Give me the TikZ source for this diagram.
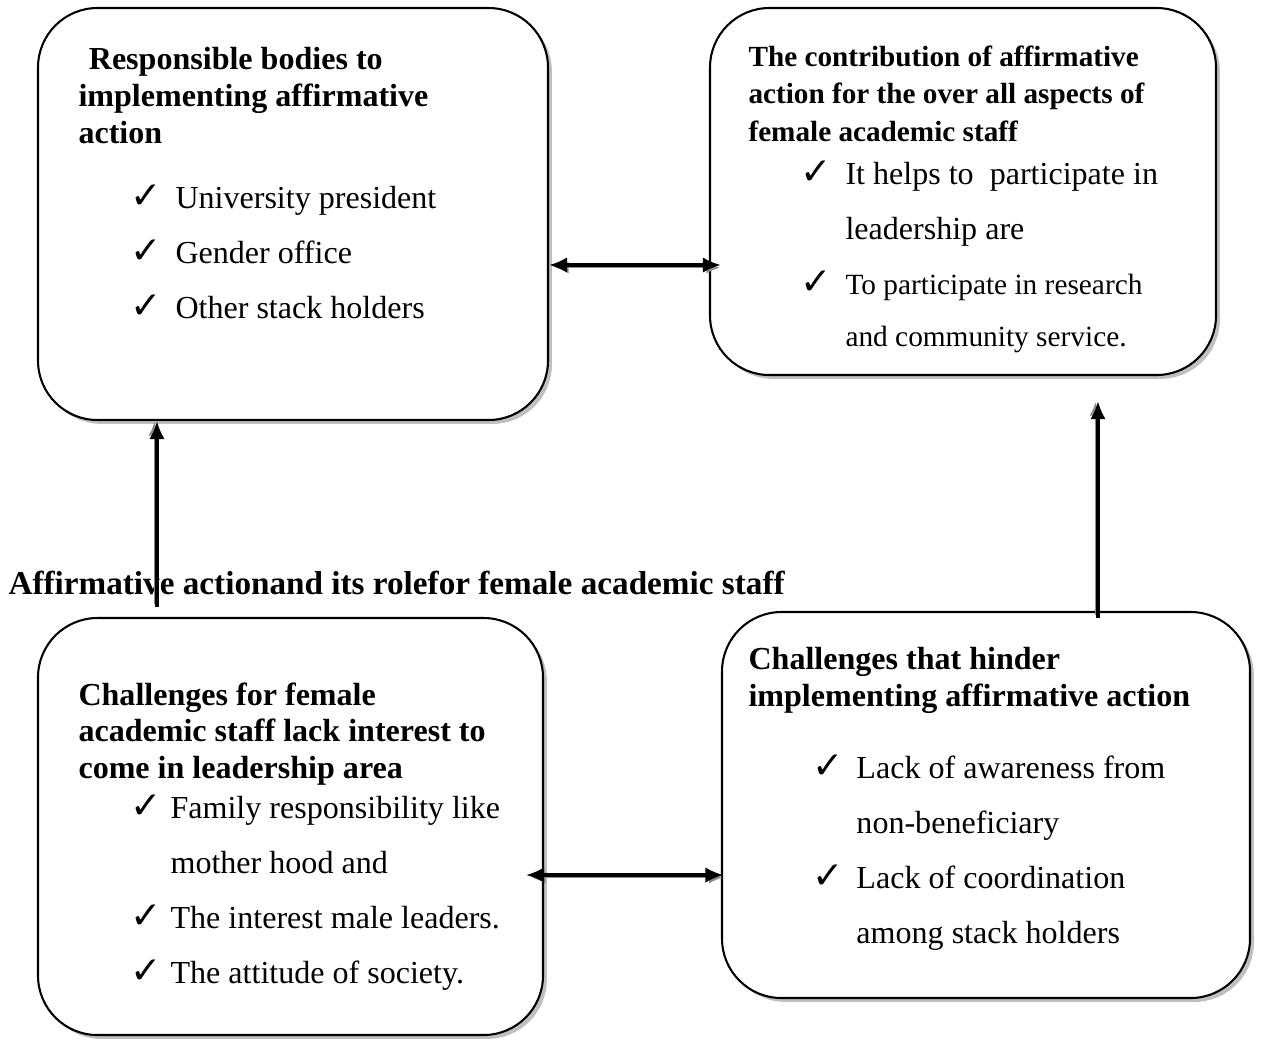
\documentclass[tikz,border=0pt]{standalone}
\usepackage{fontspec}
\setmainfont{Liberation Serif}
\newfontfamily\symfont{DejaVu Sans}
\usetikzlibrary{shadows,arrows.meta,fit}
\newcommand{\chk}[1][17.4pt]{\makebox[#1][l]{\symfont\fontsize{14.5}{14.5}\selectfont ✓}}
\tikzset{
    box/.style={draw, line width=.8pt, rounded corners=23pt, fill=white, inner sep=0pt,
        drop shadow={shadow xshift=1.5pt, shadow yshift=-1.5pt, fill=black!25, opacity=1}},
    txt/.style={anchor=north west, inner sep=0pt, align=left},
    head/.style={txt, font=\fontsize{12.4}{14.2}\selectfont\bfseries},
    items/.style={txt, font=\fontsize{12.4}{21.3}\selectfont},
    arr/.style={line width=1.2pt, {Latex[length=7pt,width=6pt]}-{Latex[length=7pt,width=6pt]},
        preaction={draw=black!45, transform canvas={shift={(1pt,-1pt)}}}},
    uparr/.style={line width=1.2pt, -{Latex[length=7pt,width=6pt]},
        preaction={draw=black!45, transform canvas={shift={(-1pt,1pt)}}}}
}
\begin{document}
\begin{tikzpicture}[x=0.0136cm, y=-0.0136cm]
\useasboundingbox (0,0) rectangle (1261,1042);
% boxes
\node[box, fit={(38,8) (548,420)}] (bodies) {};
\node[box, fit={(710,8) (1216,375)}] (contrib) {};
\node[box, fit={(38,618) (543,1035)}] (lack) {};
\node[box, fit={(722,612) (1250,998)}] (hinder) {};

% texts
\node[head] (bodiesh) at (78,47) {\hspace*{4pt}Responsible bodies to\\implementing affirmative\\action};
\node[items] (bodiesi) at (130,184) {\chk University president\\\chk Gender office\\\chk Other stack holders};

\node[head, font=\fontsize{11.3}{14.5}\selectfont\bfseries] (contribh) at (748,45) {The contribution of affirmative\\action for the over all aspects of\\female academic staff};
\node[items] (contribi) at (800,160) {\chk It helps to~ participate in\\\hspace*{17.4pt}leadership are};
\node[txt, font=\fontsize{11.35}{20.2}\selectfont] (contribj) at (800,270) {\chk To participate in research\\\hspace*{17.4pt}and community service.};

\node[txt, font=\fontsize{12.85}{15}\selectfont\bfseries] (title) at (8,571) {Affirmative actionand its rolefor female academic staff};

\node[head] (lackh) at (78,682) {Challenges for female\\academic staff lack interest to\\come in leadership area};
\node[items] (lacki) at (130,794) {\chk[15.5pt]Family responsibility like\\\hspace*{15.5pt}mother hood and\\\chk[15.5pt]The interest male leaders.\\\chk[15.5pt]The attitude of society.};

\node[head] (hinderh) at (748,647) {Challenges that hinder\\implementing affirmative action};
\node[items] (hinderi) at (812,754) {\chk[17pt]Lack of awareness from\\\hspace*{17pt}non-beneficiary\\\chk[17pt]Lack of coordination\\\hspace*{17pt}among stack holders};

% connectors
\coordinate (ya) at (0,265);
\coordinate (yb) at (0,875);
\coordinate (xa) at (157,0);
\coordinate (xb) at (1098,0);
\coordinate (startl) at (157,607);
\draw[arr, shorten >=-4.6pt] (bodies.east |- ya) -- (contrib.west |- ya);
\draw[arr, shorten <=-7pt, shorten >=-1pt] (lack.east |- yb) -- (hinder.west |- yb);
\draw[uparr] (startl) -- (bodies.south -| xa);
\draw[uparr, shorten <=-2.7pt, shorten >=9.7pt] (hinder.north -| xb) -- (contrib.south -| xb);
\end{tikzpicture}
\end{document}
